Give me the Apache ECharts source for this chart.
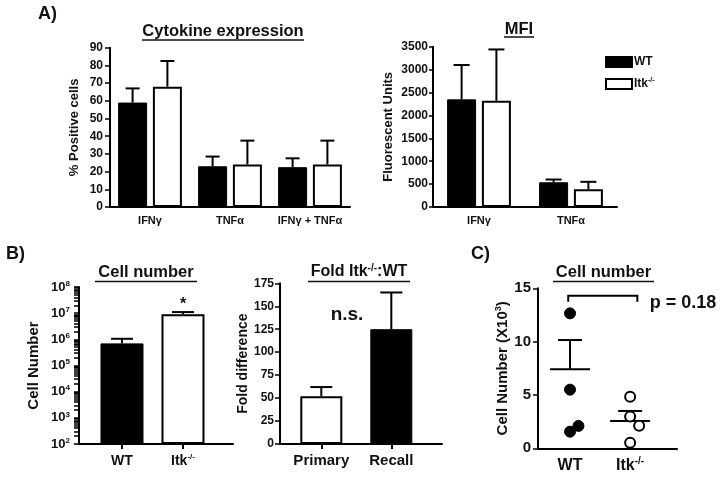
<!DOCTYPE html>
<html><head><meta charset="utf-8">
<script src="https://cdn.jsdelivr.net/npm/echarts@6/dist/echarts.min.js"></script>
<style>html,body{margin:0;padding:0;background:#fff}#c{width:726px;height:477px}</style>
</head><body><div id="c"></div>
<script>
// ---------- DATA ----------
// Panel A: Cytokine expression (% positive cells)
const catsA1 = ['IFNγ', 'TNFα', 'IFNγ + TNFα'];
const wtA1 = [59, 23, 22.5];
const wtA1Err = [67, 28.5, 27.5];
const itkA1 = [68, 24, 24];
const itkA1Err = [82.5, 37.5, 37.5];
// Panel A: MFI (fluorescent units)
const catsA2 = ['IFNγ', 'TNFα'];
const wtA2 = [2350, 540];
const wtA2Err = [3100, 600];
const itkA2 = [2320, 390];
const itkA2Err = [3440, 550];
// Panel B: cell number (log)
const catsB1 = ['WT', 'Itk{sup|-/-}'];
const posB1 = [1, 2];
const cellsB1 = [7.0e5, 9.0e6];
const cellsB1Err = [1.05e6, 1.1e7];
const decadesB1 = [1e2, 1e3, 1e4, 1e5, 1e6, 1e7, 1e8];
// Panel B: fold difference
const catsB2 = ['Primary', 'Recall'];
const posB2 = [1, 2];
const foldB2 = [52, 125];
const foldB2Err = [62, 165];
// Panel C: cell number (x10^3), individual points
const catsC = ['WT', 'Itk{sup|-/-}'];
const posC = [1, 2];
const wtC = [12.65, 5.5, 1.56, 2.1];
const wtCx = [1, 1, 1, 1.14];
const itkC = [4.84, 2.97, 2.12, 0.53];
const itkCx = [2, 2, 2.15, 2];
const meanC = [7.4, 2.56];
const semC = [10.15, 3.5];
const bracketC = [0.97, 2.12, 14.3, 13.75];

// ---------- STYLE HELPERS ----------
const F = 'Liberation Sans, Arial, sans-serif';
const K = '#111';
const axLine = { show: true, onZero: false, lineStyle: { color: '#000', width: 2 } };
const supRich = (fs) => ({ sup: { fontSize: Math.round(fs * 0.6), fontWeight: 'bold', fontFamily: F, color: K, verticalAlign: 'top', lineHeight: fs + 2 }, n: { fontSize: fs, fontWeight: 'bold', fontFamily: F, color: K, lineHeight: fs + 2 } });

function errRender(off, cap) {
  return function (params, api) {
    const x = api.value(0), top = api.value(1), base = api.value(2);
    const p0 = api.coord([x, base]), p1 = api.coord([x, top]);
    const cx = p0[0] + off;
    return { type: 'group', children: [
      { type: 'line', shape: { x1: cx, y1: p0[1], x2: cx, y2: p1[1] }, style: { stroke: '#000', lineWidth: 2 } },
      { type: 'line', shape: { x1: cx - cap, y1: p1[1], x2: cx + cap, y2: p1[1] }, style: { stroke: '#000', lineWidth: 2 } }
    ] };
  };
}
function meanRender(params, api) {
  const x = api.value(0), m = api.value(1), s = api.value(2);
  const pm = api.coord([x, m]), ps = api.coord([x, s]);
  return { type: 'group', children: [
    { type: 'line', shape: { x1: pm[0] - 20, y1: pm[1], x2: pm[0] + 20, y2: pm[1] }, style: { stroke: '#000', lineWidth: 2 } },
    { type: 'line', shape: { x1: pm[0], y1: pm[1], x2: pm[0], y2: ps[1] }, style: { stroke: '#000', lineWidth: 2 } },
    { type: 'line', shape: { x1: ps[0] - 12, y1: ps[1], x2: ps[0] + 12, y2: ps[1] }, style: { stroke: '#000', lineWidth: 2 } }
  ] };
}
function bracketRender(params, api) {
  const a = api.coord([api.value(0), api.value(2)]);
  const b = api.coord([api.value(1), api.value(2)]);
  const a2 = api.coord([api.value(0), api.value(3)]);
  return { type: 'polyline', shape: { points: [[a[0], a2[1]], a, b, [b[0], a2[1]]] }, style: { stroke: '#000', lineWidth: 2, fill: null } };
}

const whiteBar = { color: '#fff', borderColor: '#000', borderWidth: 2 };
const blackBar = { color: '#000', borderColor: '#000', borderWidth: 1 };

function yVal(gi, min, max, interval, name, nameGap, nameFs, labFs, margin, tickLen, extra) {
  return Object.assign({
    type: 'value', gridIndex: gi, min: min, max: max, interval: interval,
    name: name, nameLocation: 'middle', nameGap: nameGap,
    nameTextStyle: { fontFamily: F, fontWeight: 'bold', fontSize: nameFs, color: K },
    axisLine: axLine, splitLine: { show: false },
    axisTick: { show: true, length: tickLen, lineStyle: { color: '#000', width: 1.5 } },
    axisLabel: { fontFamily: F, fontWeight: 'bold', fontSize: labFs, color: K, margin: margin, formatter: (v) => String(v) }
  }, extra || {});
}

const chart = echarts.init(document.getElementById('c'), null, { renderer: 'canvas' });

const option = {
  animation: false,
  backgroundColor: '#fff',
  textStyle: { fontFamily: F },
  grid: [
    { left: 110, top: 47.7, width: 240, height: 159.3 },
    { left: 433, top: 46.7, width: 184, height: 160.3 },
    { left: 79, top: 287, width: 154, height: 157 },
    { left: 280, top: 283.3, width: 162, height: 160.7 },
    { left: 538, top: 288.3, width: 139, height: 160 }
  ],
  legend: {
    orient: 'vertical', left: 600, top: 51, itemWidth: 26, itemHeight: 10, itemGap: 9,
    icon: 'rect', data: ['WT', 'Itk'], selectedMode: false,
    formatter: (n) => n === 'Itk' ? '{n|Itk}{sup|-/-}' : '{n|' + n + '}',
    textStyle: { padding: [0, 0, 0, -3], rich: supRich(12) }
  },
  xAxis: [
    { type: 'category', gridIndex: 0, data: catsA1, axisLine: axLine, axisTick: { show: false },
      axisLabel: { fontFamily: F, fontWeight: 'bold', fontSize: 11, color: K, margin: 8, interval: 0 } },
    { type: 'category', gridIndex: 1, data: catsA2, axisLine: axLine, axisTick: { show: false },
      axisLabel: { fontFamily: F, fontWeight: 'bold', fontSize: 11, color: K, margin: 8, interval: 0 } },
    { type: 'value', gridIndex: 2, min: 0.295, max: 2.82, axisLine: axLine, splitLine: { show: false },
      axisTick: { show: true, customValues: posB1, length: 5, lineStyle: { color: '#000', width: 2 } },
      axisLabel: { customValues: posB1, formatter: (v) => { const s = catsB1[Math.round(v) - 1]; return s.indexOf('{') >= 0 ? '{n|Itk}' + s.slice(3) : '{n|' + s + '}'; },
        margin: 9, rich: supRich(14) } },
    { type: 'value', gridIndex: 3, min: 0.41, max: 2.724, axisLine: axLine, splitLine: { show: false },
      axisTick: { show: true, customValues: posB2, length: 5, lineStyle: { color: '#000', width: 2 } },
      axisLabel: { customValues: posB2, formatter: (v) => catsB2[Math.round(v) - 1],
        fontFamily: F, fontWeight: 'bold', fontSize: 15, color: K, margin: 9 } },
    { type: 'value', gridIndex: 4, min: 0.467, max: 2.78, axisLine: axLine, splitLine: { show: false },
      axisTick: { show: false, customValues: posC },
      axisLabel: { customValues: posC, formatter: (v) => { const s = catsC[Math.round(v) - 1]; return s.indexOf('{') >= 0 ? '{n|Itk}' + s.slice(3) : '{n|' + s + '}'; },
        margin: 8, rich: supRich(16) } }
  ],
  yAxis: [
    yVal(0, 0, 90, 10, '% Positive cells', 29, 13, 12, 7, 5),
    yVal(1, 0, 3500, 500, 'Fluorescent Units', 38, 13, 12, 5, 4),
    {
      type: 'log', gridIndex: 2, min: 1e2, max: 1e8, logBase: 10, startValue: 1e2,
      name: 'Cell Number', nameLocation: 'middle', nameGap: 38,
      nameTextStyle: { fontFamily: F, fontWeight: 'bold', fontSize: 15, color: K },
      axisLine: axLine, splitLine: { show: false },
      axisTick: { show: true, length: 5, lineStyle: { color: '#000', width: 1.5 },
        customValues: (function () { const a = []; for (let d = 2; d < 8; d++) for (let m = 1; m < 10; m++) a.push(m * Math.pow(10, d)); a.push(1e8); return a; })() },
      axisLabel: { customValues: decadesB1, margin: 9,
        formatter: (v) => '{n|10}{sup|' + Math.round(Math.log10(v)) + '}', rich: supRich(13) }
    },
    yVal(3, 0, 175, 25, 'Fold difference', 28, 14, 12, 6, 5),
    yVal(4, 0, 15, 5, 'Cell Number (X10{sup|3})', 24, 15, 15, 7, 5,
      { nameTextStyle: { fontFamily: F, fontWeight: 'bold', fontSize: 15, color: K,
        rich: { sup: { fontSize: 9, fontWeight: 'bold', fontFamily: F, color: K, verticalAlign: 'top', lineHeight: 17 } } } })
  ],
  series: [
    // A1
    { name: 'WT', type: 'bar', xAxisIndex: 0, yAxisIndex: 0, data: wtA1, barWidth: 29, barGap: '20%', itemStyle: blackBar },
    { name: 'Itk', type: 'bar', xAxisIndex: 0, yAxisIndex: 0, data: itkA1, barWidth: 29, barGap: '20%', itemStyle: whiteBar },
    { type: 'custom', xAxisIndex: 0, yAxisIndex: 0, z: 5, renderItem: errRender(-17.4, 7), data: wtA1.map((v, i) => [i, wtA1Err[i], v]) },
    { type: 'custom', xAxisIndex: 0, yAxisIndex: 0, z: 5, renderItem: errRender(17.4, 7), data: itkA1.map((v, i) => [i, itkA1Err[i], v]) },
    // A2
    { name: 'WT', type: 'bar', xAxisIndex: 1, yAxisIndex: 1, data: wtA2, barWidth: 29, barGap: '20%', itemStyle: blackBar },
    { name: 'Itk', type: 'bar', xAxisIndex: 1, yAxisIndex: 1, data: itkA2, barWidth: 29, barGap: '20%', itemStyle: whiteBar },
    { type: 'custom', xAxisIndex: 1, yAxisIndex: 1, z: 5, renderItem: errRender(-17.4, 8), data: wtA2.map((v, i) => [i, wtA2Err[i], v]) },
    { type: 'custom', xAxisIndex: 1, yAxisIndex: 1, z: 5, renderItem: errRender(17.4, 8), data: itkA2.map((v, i) => [i, itkA2Err[i], v]) },
    // B1
    { name: 'cells', type: 'bar', xAxisIndex: 2, yAxisIndex: 2, barWidth: 43, clip: true,
      data: cellsB1.map((v, i) => ({ value: [posB1[i], v], itemStyle: i === 0 ? blackBar : whiteBar })) },
    { type: 'custom', xAxisIndex: 2, yAxisIndex: 2, z: 5, renderItem: errRender(0, 11), data: cellsB1.map((v, i) => [posB1[i], cellsB1Err[i], v]) },
    // B2
    { name: 'fold', type: 'bar', xAxisIndex: 3, yAxisIndex: 3, barWidth: 42,
      data: foldB2.map((v, i) => ({ value: [posB2[i], v], itemStyle: i === 0 ? whiteBar : blackBar })) },
    { type: 'custom', xAxisIndex: 3, yAxisIndex: 3, z: 5, renderItem: errRender(0, 11), data: foldB2.map((v, i) => [posB2[i], foldB2Err[i], v]) },
    // C
    { name: 'wtC', type: 'scatter', xAxisIndex: 4, yAxisIndex: 4, symbolSize: 11, z: 6,
      itemStyle: { color: '#000', borderColor: '#000', borderWidth: 1, opacity: 1 }, data: wtC.map((v, i) => [wtCx[i], v]) },
    { name: 'itkC', type: 'scatter', xAxisIndex: 4, yAxisIndex: 4, symbolSize: 10, z: 6,
      itemStyle: { color: '#fff', borderColor: '#000', borderWidth: 2, opacity: 1 }, data: itkC.map((v, i) => [itkCx[i], v]) },
    { type: 'custom', xAxisIndex: 4, yAxisIndex: 4, z: 5, renderItem: meanRender, data: meanC.map((m, i) => [posC[i], m, semC[i]]) },
    { type: 'custom', xAxisIndex: 4, yAxisIndex: 4, z: 5, renderItem: bracketRender, data: [bracketC] }
  ],
  graphic: [
    { type: 'text', left: 38, top: 5, style: { text: 'A)', font: 'bold 18px ' + F, fill: K } },
    { type: 'text', x: 223, y: 31.5, style: { text: 'Cytokine expression', font: 'bold 16.5px ' + F, fill: K, align: 'center', verticalAlign: 'middle' } },
    { type: 'line', shape: { x1: 142, y1: 40, x2: 304, y2: 40 }, style: { stroke: K, lineWidth: 1.5 } },
    { type: 'text', x: 519, y: 29, style: { text: 'MFI', font: 'bold 16.5px ' + F, fill: K, align: 'center', verticalAlign: 'middle' } },
    { type: 'line', shape: { x1: 504, y1: 37, x2: 534, y2: 37 }, style: { stroke: K, lineWidth: 1.5 } },
    { type: 'text', left: 6, top: 245, style: { text: 'B)', font: 'bold 18px ' + F, fill: K } },
    { type: 'text', x: 146, y: 272, style: { text: 'Cell number', font: 'bold 16.5px ' + F, fill: K, align: 'center', verticalAlign: 'middle' } },
    { type: 'line', shape: { x1: 95, y1: 281.5, x2: 197, y2: 281.5 }, style: { stroke: K, lineWidth: 1.5 } },
    { type: 'text', x: 359, y: 272, style: { text: '{n|Fold Itk}{sup|-/-}{n|:WT}', font: 'bold 16px ' + F, fill: K, align: 'center', verticalAlign: 'middle', rich: supRich(16) } },
    { type: 'line', shape: { x1: 308, y1: 281.5, x2: 410, y2: 281.5 }, style: { stroke: K, lineWidth: 1.5 } },
    { type: 'text', left: 471, top: 245, style: { text: 'C)', font: 'bold 18px ' + F, fill: K } },
    { type: 'text', x: 603.5, y: 272, style: { text: 'Cell number', font: 'bold 16.5px ' + F, fill: K, align: 'center', verticalAlign: 'middle' } },
    { type: 'line', shape: { x1: 553, y1: 281.5, x2: 654, y2: 281.5 }, style: { stroke: K, lineWidth: 1.5 } },
    { type: 'text', x: 183, y: 305, style: { text: '*', font: 'bold 16px ' + F, fill: K, align: 'center', verticalAlign: 'middle' } },
    { type: 'text', x: 347, y: 315, style: { text: 'n.s.', font: 'bold 19px ' + F, fill: K, align: 'center', verticalAlign: 'middle' } },
    { type: 'text', x: 683, y: 303, style: { text: 'p = 0.18', font: 'bold 18px ' + F, fill: K, align: 'center', verticalAlign: 'middle' } }
  ]
};
chart.setOption(option);
</script></body></html>
